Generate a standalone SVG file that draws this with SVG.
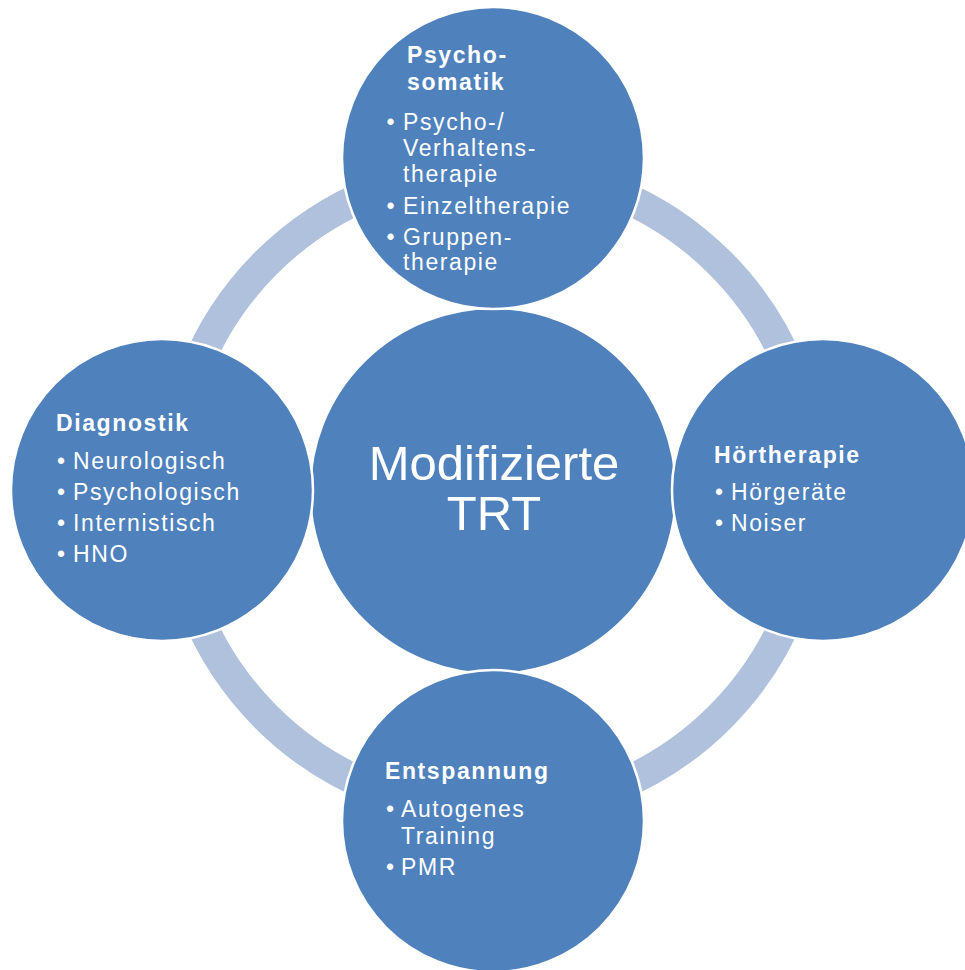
<svg xmlns="http://www.w3.org/2000/svg" width="965" height="970" viewBox="0 0 965 970">
  <style>
    .ring { fill: none; stroke: #B0C1DD; stroke-width: 31; }
    .node { fill: #4F81BD; stroke: #FFFFFF; stroke-width: 2.5; }
    .hub { fill: #4F81BD; stroke: #FFFFFF; stroke-width: 2.5; }
    text { font-family: "Liberation Sans", Arial, sans-serif; fill: #FFFFFF; }
    .title { font-size: 49px; text-anchor: middle; }
    .head { font-size: 23px; font-weight: bold; letter-spacing: 1.6px; }
    .item { font-size: 23px; letter-spacing: 1.6px; }
  </style>
  <rect width="965" height="970" fill="#FFFFFF"/>

  <!-- cycle ring linking the outer circles -->
  <g id="connectors">
    <circle class="ring" cx="493" cy="490" r="321"/>
  </g>

  <!-- central circle -->
  <g id="hub">
    <circle class="hub" cx="493" cy="491" r="183"/>
    <text class="title" x="494" y="480">Modifizierte</text>
    <text class="title" x="494" y="530">TRT</text>
  </g>

  <!-- top: Psychosomatik -->
  <g id="psychosomatik">
    <circle class="node" cx="493" cy="158" r="151"/>
    <text class="head" x="407" y="63">Psycho-</text>
    <text class="head" x="407" y="90">somatik</text>
    <text class="item"><tspan x="386.5" y="130">•</tspan><tspan x="403" y="130">Psycho-/</tspan></text>
    <text class="item" x="403" y="156">Verhaltens-</text>
    <text class="item" x="403" y="182">therapie</text>
    <text class="item"><tspan x="386.5" y="214">•</tspan><tspan x="403" y="214">Einzeltherapie</tspan></text>
    <text class="item"><tspan x="386.5" y="245">•</tspan><tspan x="403" y="245">Gruppen-</tspan></text>
    <text class="item" x="403" y="270">therapie</text>
  </g>

  <!-- left: Diagnostik -->
  <g id="diagnostik">
    <circle class="node" cx="162" cy="490" r="151"/>
    <text class="head" x="56" y="431">Diagnostik</text>
    <text class="item"><tspan x="57" y="469">•</tspan><tspan x="73" y="469">Neurologisch</tspan></text>
    <text class="item"><tspan x="57" y="500">•</tspan><tspan x="73" y="500">Psychologisch</tspan></text>
    <text class="item"><tspan x="57" y="531">•</tspan><tspan x="73" y="531">Internistisch</tspan></text>
    <text class="item"><tspan x="57" y="562">•</tspan><tspan x="73" y="562">HNO</tspan></text>
  </g>

  <!-- right: Hörtherapie -->
  <g id="hoertherapie">
    <circle class="node" cx="823" cy="490" r="151"/>
    <text class="head" x="714" y="463">Hörtherapie</text>
    <text class="item"><tspan x="715" y="500">•</tspan><tspan x="731" y="500">Hörgeräte</tspan></text>
    <text class="item"><tspan x="715" y="531">•</tspan><tspan x="731" y="531">Noiser</tspan></text>
  </g>

  <!-- bottom: Entspannung -->
  <g id="entspannung">
    <circle class="node" cx="493" cy="821" r="151"/>
    <text class="head" x="385" y="779">Entspannung</text>
    <text class="item"><tspan x="386" y="817">•</tspan><tspan x="401" y="817">Autogenes</tspan></text>
    <text class="item" x="401" y="844">Training</text>
    <text class="item"><tspan x="386" y="875">•</tspan><tspan x="401" y="875">PMR</tspan></text>
  </g>
</svg>
